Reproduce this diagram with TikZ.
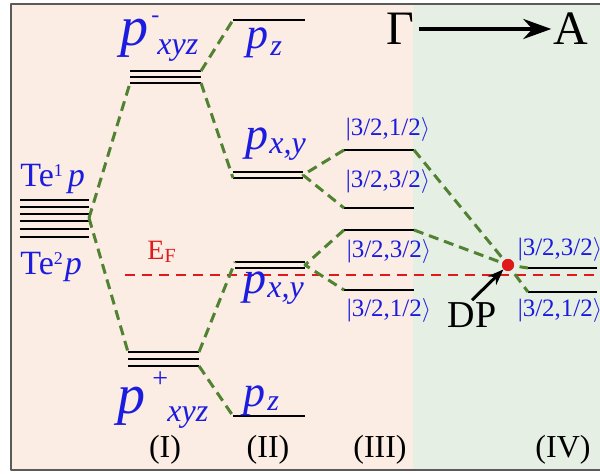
\documentclass[tikz,border=0pt]{standalone}
\usepackage{fontspec}
\setmainfont{Liberation Serif}
\usetikzlibrary{arrows.meta}
\definecolor{peach}{HTML}{FBEDE3}
\definecolor{mint}{HTML}{E6EFE4}
\definecolor{orb}{HTML}{1C1CE0}
\definecolor{band}{HTML}{508232}
\definecolor{fermi}{HTML}{E01A1A}
\definecolor{rim}{HTML}{5A5A5A}
\newcommand{\fs}[1]{\fontsize{#1}{#1}\selectfont}
\newcommand{\jket}[1]{|3/2,#1/2$\rangle$}
\tikzset{fig/.style={x=0.5pt,y=-0.5pt,line join=round,>=Stealth},
  lvl/.style={line width=1pt},
  link/.style={band,line width=1.5pt,dash pattern=on 5pt off 3pt},
  orbtxt/.style={inner sep=0pt,anchor=base west,orb},
  ket/.style={inner sep=0pt,orb,font=\fs{12.5}},
  tag/.style={inner sep=0pt,font=\fs{16}}}

\begin{document}
\begin{tikzpicture}[fig]
  \useasboundingbox (0,0) rectangle (600,474);
  \fill[peach](11,4)rectangle(413,470);\fill[mint](413,4)rectangle(601,470);
  \draw[rim,line width=1pt](601,4)--(11,4)--(11,470)--(601,470);
  % Fermi level
  \coordinate (efL) at (125,275);\coordinate (efR) at (601,275);
  \draw[fermi,line width=1.4pt,dash pattern=on 5pt off 3.5pt](efL)--(efR);
  \node[fermi,anchor=base west,inner sep=0pt] (ef) at (147,260) {\fs{14}E\raisebox{-1.5pt}{\fs{10}F}};
  % levels
  \foreach \y in {200,207,214,221,229,237} \draw[lvl](20,\y)--(89,\y);
  \coordinate (teR) at (89,218);
  \foreach \y in {71,77,83} \draw[lvl](130,\y)--(201,\y);
  \coordinate (pmL) at (130,83);\coordinate (pmT) at (201,71);\coordinate (pmB) at (201,83);
  \foreach \y in {352,359,366} \draw[lvl](128,\y)--(199,\y);
  \coordinate (ppL) at (128,352);\coordinate (ppT) at (199,352);\coordinate (ppB) at (199,366);
  \draw[lvl](233,20)--(305,20);\coordinate (pzA) at (233,20);
  \foreach \y in {172,178} \draw[lvl](233,\y)--(303,\y);
  \coordinate (pxyAL) at (233,178);\coordinate (pxyAR) at (303,175);
  \foreach \y in {262,268} \draw[lvl](235,\y)--(305,\y);
  \coordinate (pxyBL) at (235,262);\coordinate (pxyBR) at (305,265);
  \draw[lvl](233,416)--(305,416);\coordinate (pzB) at (233,416);
  \foreach \y/\n in {150/a,208/b,230/c,290/d}{\draw[lvl](344,\y)--(414,\y);
    \coordinate (s\n L) at (344,\y);\coordinate (s\n R) at (414,\y);}
  \foreach \y/\n in {268/a,292/b}{\draw[lvl](528,\y)--(597,\y);\coordinate (v\n L) at (528,\y);}
  \node[circle,fill=fermi,inner sep=0pt,minimum size=6pt] (dp) at (508,265) {};
  % links
  \draw[link](teR)--(pmL);\draw[link](teR)--(ppL);
  \draw[link](pmT)--(pzA);\draw[link](pmB)--(pxyAL);
  \draw[link](ppT)--(pxyBL);\draw[link](ppB)--(pzB);
  \draw[link](saL)--(pxyAR)--(sbL);\draw[link](scL)--(pxyBR)--(sdL);
  \draw[link](saR)--(dp.center)--(vbL);\draw[link](scR)--(dp.center)--(vaL);
  \fill[fermi](dp)circle(3pt);
  % labels
  \node[orbtxt] (te1) at (20,187) {\fs{17}Te\raisebox{5pt}{\fs{9}1}\hspace{2.5pt}\textit{p}};
  \node[orbtxt] (te2) at (20,275) {\fs{17}Te\raisebox{5pt}{\fs{9}2}\hspace{1pt}\textit{p}};
  \node[orbtxt] (pm) at (120,46) {\fs{28}\textit{p}\hspace{1.5pt}\rlap{\raisebox{11.5pt}{\fs{12}-}}\hspace{3pt}\raisebox{-4.5pt}{\fs{16}\textit{xyz}}};
  \node[orbtxt] (pp) at (117,414) {\fs{28}\textit{p}\hspace{3.5pt}\rlap{\raisebox{13pt}{\fs{14}+}}\hspace{7.5pt}\raisebox{-4pt}{\fs{16}\textit{xyz}}};
  \node[orbtxt] (pzlA) at (246,49) {\fs{22}\textit{p}\hspace{1pt}\raisebox{-3.5pt}{\fs{15}\textit{z}}};
  \node[orbtxt] (pzlB) at (243,407) {\fs{22}\textit{p}\hspace{1pt}\raisebox{-2pt}{\fs{15}\textit{z}}};
  \node[orbtxt] (pxylA) at (245,150) {\fs{23}\textit{p}\hspace{0.5pt}\raisebox{-2pt}{\fs{16}\textit{x,y}}};
  \node[orbtxt] (pxylB) at (243,294) {\fs{23}\textit{p}\hspace{0.5pt}\raisebox{-2pt}{\fs{16}\textit{x,y}}};
  \node[ket] (ka) at (388,130) {\jket{1}};\node[ket] (kb) at (388,182) {\jket{3}};
  \node[ket] (kc) at (389,252) {\jket{3}};\node[ket] (kd) at (389,311) {\jket{1}};
  \node[ket] (ke) at (560,250) {\jket{3}};\node[ket] (kf) at (560,311) {\jket{1}};
  \node[tag] (c1) at (165,450) {(I)};\node[tag] (c2) at (268,450) {(II)};
  \node[tag] (c3) at (380,450) {(III)};\node[tag] (c4) at (563,450) {(IV)};
  % path and Dirac point
  \node[inner sep=0pt,font=\fs{24}] (gam) at (400,29) {Γ};
  \node[inner sep=0pt,font=\fs{24}] (kA) at (571,29) {A};
  \draw[line width=2pt,-{Stealth[length=14pt,width=10pt]},shorten <=2.5pt,shorten >=1pt](gam)--(kA);
  \node[inner sep=1pt,font=\fs{19}] (dpl) at (472,315) {DP};
  \draw[line width=1.5pt,-{Stealth[length=8pt,width=6pt]}](dpl.north)--(dp);
\end{tikzpicture}
\end{document}
